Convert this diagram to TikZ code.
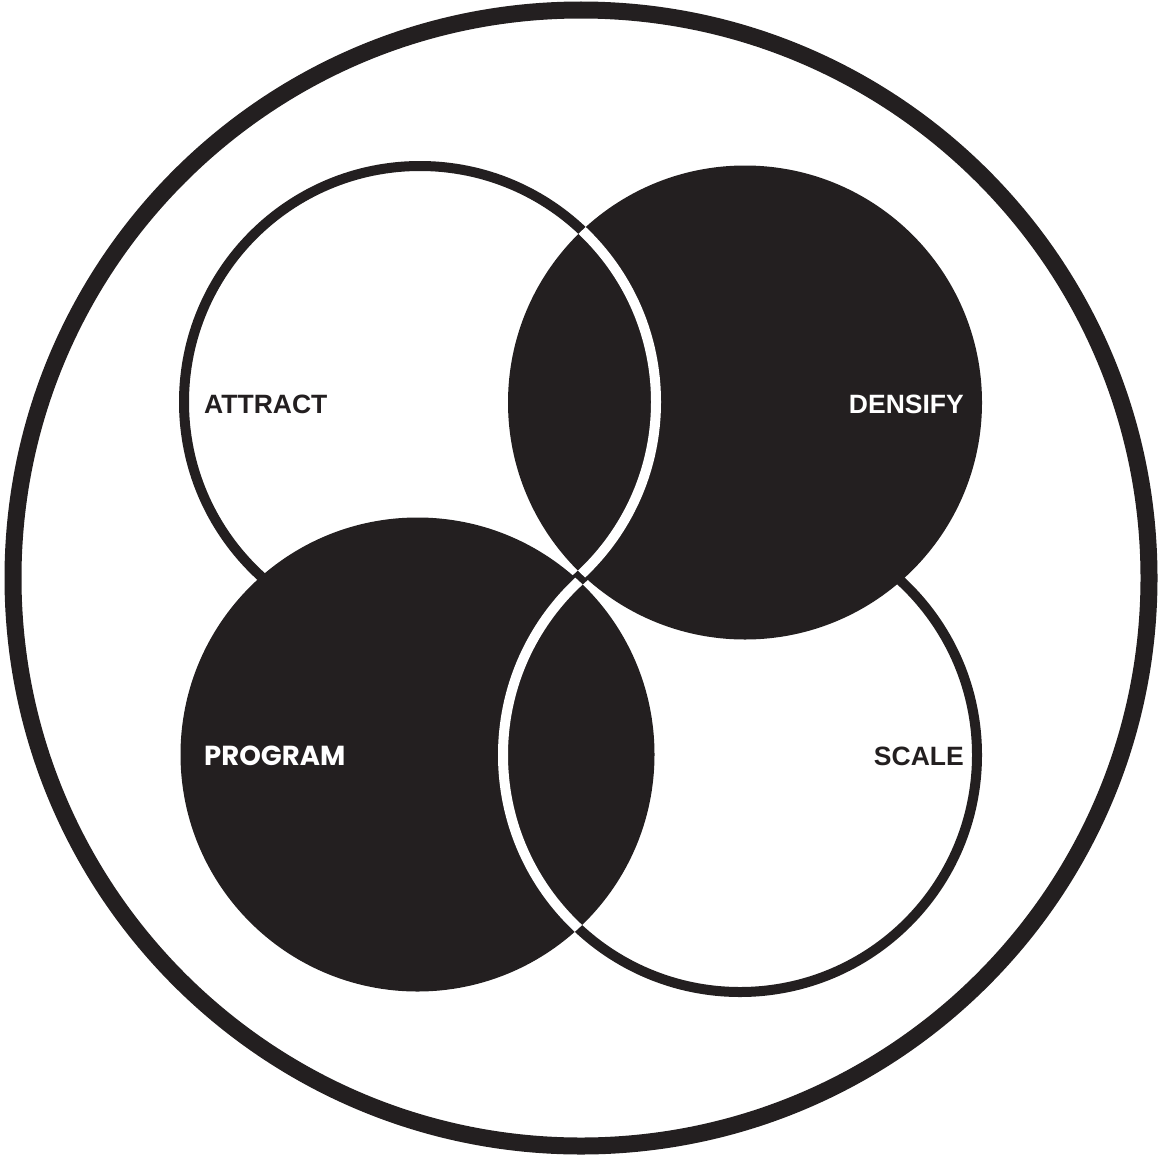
\documentclass[tikz,border=0pt]{standalone}
\usepackage{fontspec}
\setmainfont{Liberation Sans}
\newfontfamily\popfont{Poppins}
\definecolor{ink}{HTML}{231F20}
\begin{document}
\begin{tikzpicture}[x=1pt,y=-1pt,
  lbl/.style={font=\fontsize{26.5}{30}\selectfont\bfseries, inner sep=0pt},
  ringline/.style={line width=10pt}]
\useasboundingbox (0,0) rectangle (1159,1156);
\coordinate (O) at (581,578);
\coordinate (cA) at (420,402);
\coordinate (cD) at (745,402.5);
\coordinate (cP) at (417.5,754.5);
\coordinate (cS) at (740,755);
% outer ring
\draw[ink, line width=17pt] (O) circle[radius=568pt];
% white circles with dark rings
\fill[white] (cA) circle[radius=236pt];
\draw[ink, ringline] (cA) circle[radius=236pt];
\fill[white] (cS) circle[radius=237pt];
\draw[ink, ringline] (cS) circle[radius=237pt];
% dark disks
\fill[ink] (cD) circle[radius=237pt];
\fill[ink] (cP) circle[radius=237pt];
% weave: white ring parts over dark disks
\begin{scope}
  \clip (cD) circle[radius=237pt];
  \draw[white, ringline] (cA) circle[radius=236pt];
\end{scope}
\begin{scope}
  \clip (cP) circle[radius=237pt];
  \draw[white, ringline] (cS) circle[radius=237pt];
\end{scope}
% labels
\node[lbl, ink, anchor=base west] (attract) at (204,413.5) {ATTRACT};
\node[lbl, white, anchor=base east] (densify) at (964,413.5) {DENSIFY};
\node[lbl, white, anchor=base west, font=\fontsize{27.5}{30}\selectfont\popfont\bfseries] (program) at (204,765.5) {PROGRAM};
\node[lbl, ink, anchor=base east] (scale) at (964,765.5) {SCALE};
\end{tikzpicture}
\end{document}
